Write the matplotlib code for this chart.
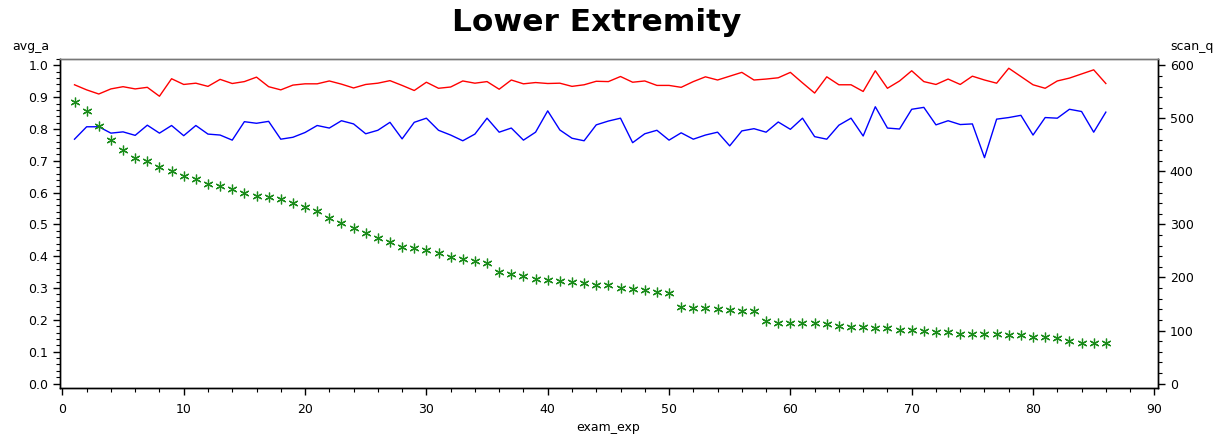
import matplotlib
matplotlib.use("Agg")
import matplotlib.pyplot as plt
from matplotlib.ticker import MultipleLocator

plt.rcParams['font.family'] = ['DejaVu Sans']

# exam_exp 1..86
exam_exp = list(range(1, 87))

# linha vermelha (avg_a)
red = [0.939, 0.923, 0.910, 0.926, 0.933, 0.926, 0.931, 0.903, 0.958, 0.940,
       0.944, 0.934, 0.956, 0.943, 0.949, 0.963, 0.933, 0.923, 0.938, 0.942,
       0.942, 0.951, 0.941, 0.929, 0.940, 0.944, 0.952, 0.937, 0.921, 0.947,
       0.928, 0.932, 0.951, 0.944, 0.949, 0.925, 0.954, 0.942, 0.946, 0.943,
       0.944, 0.934, 0.939, 0.950, 0.949, 0.965, 0.947, 0.951, 0.937, 0.937,
       0.931, 0.949, 0.964, 0.954, 0.966, 0.978, 0.954, 0.957, 0.961, 0.978,
       0.945, 0.913, 0.964, 0.939, 0.939, 0.918, 0.983, 0.928, 0.951, 0.983,
       0.949, 0.940, 0.957, 0.940, 0.966, 0.954, 0.944, 0.991, 0.965, 0.939,
       0.928, 0.951, 0.960, 0.973, 0.986, 0.943]

# linha azul (avg_a)
blue = [0.768, 0.807, 0.807, 0.787, 0.791, 0.780, 0.812, 0.787, 0.811, 0.779,
        0.811, 0.784, 0.781, 0.765, 0.823, 0.818, 0.824, 0.768, 0.774, 0.789,
        0.811, 0.803, 0.826, 0.816, 0.785, 0.796, 0.821, 0.769, 0.821, 0.834,
        0.796, 0.781, 0.763, 0.784, 0.834, 0.790, 0.803, 0.765, 0.790, 0.857,
        0.797, 0.771, 0.763, 0.813, 0.825, 0.834, 0.757, 0.785, 0.796, 0.765,
        0.788, 0.768, 0.781, 0.790, 0.747, 0.794, 0.801, 0.790, 0.822, 0.799,
        0.834, 0.776, 0.768, 0.812, 0.834, 0.778, 0.870, 0.803, 0.800, 0.862,
        0.868, 0.813, 0.826, 0.814, 0.816, 0.710, 0.831, 0.836, 0.843, 0.781,
        0.836, 0.834, 0.862, 0.855, 0.790, 0.853]

# asteriscos verdes (scan_q)
scan_q = [530, 514, 486, 460, 441, 425, 419, 408, 400, 391,
          385, 376, 372, 367, 359, 354, 352, 348, 341, 332,
          325, 313, 302, 294, 283, 274, 266, 258, 255, 252,
          247, 239, 235, 232, 228, 211, 206, 203, 198, 195,
          193, 192, 189, 185, 185, 180, 178, 176, 173, 170,
          145, 142, 142, 141, 138, 137, 136, 117, 115, 115,
          115, 115, 112, 108, 107, 107, 104, 104, 101, 101,
          99, 97, 97, 94, 94, 94, 94, 92, 92, 88,
          88, 86, 80, 77, 77, 76]

fig = plt.figure(figsize=(12.31, 4.41), dpi=100)
ax = fig.add_axes([0.0487, 0.1202, 0.8920, 0.7460])
ax2 = ax.twinx()

ax.plot(exam_exp, red, color='#ff0000', lw=1.0)
ax.plot(exam_exp, blue, color='#0000ff', lw=1.0)
ax2.plot(exam_exp, scan_q, linestyle='none', marker=(6, 2, 0), markersize=7,
         markeredgewidth=0.9, color='#1a8c1a')

ax.set_xlim(-0.2, 90.3)
ax.set_ylim(-0.014, 1.02)
ax2.set_ylim(-0.014 * 600, 1.02 * 600)

ax.xaxis.set_major_locator(MultipleLocator(10))
ax.xaxis.set_minor_locator(MultipleLocator(2))
ax.yaxis.set_major_locator(MultipleLocator(0.1))
ax.yaxis.set_minor_locator(MultipleLocator(0.02))
ax2.yaxis.set_major_locator(MultipleLocator(100))
ax2.yaxis.set_minor_locator(MultipleLocator(20))
ax.yaxis.set_major_formatter(plt.FuncFormatter(lambda v, p: f'{v:.1f}'))

for a in (ax, ax2):
    a.tick_params(which='major', length=5, width=1, labelsize=9, colors='black')
    a.tick_params(which='minor', length=3, width=0.8)
    for s in a.spines.values():
        s.set_linewidth(1.0)
    a.spines['top'].set_color('#777777')

ax.tick_params(axis='x', pad=6)

fig.text(0.4846, 0.948, 'Lower Extremity', ha='center', va='center',
         fontsize=22.5, fontweight='bold')
fig.text(0.025, 0.880, 'avg_a', ha='center', va='bottom', fontsize=9)
fig.text(0.968, 0.880, 'scan_q', ha='center', va='bottom', fontsize=9)
fig.text(0.494, 0.030, 'exam_exp', ha='center', va='center', fontsize=9)

plt.savefig('out.png', dpi=100)
